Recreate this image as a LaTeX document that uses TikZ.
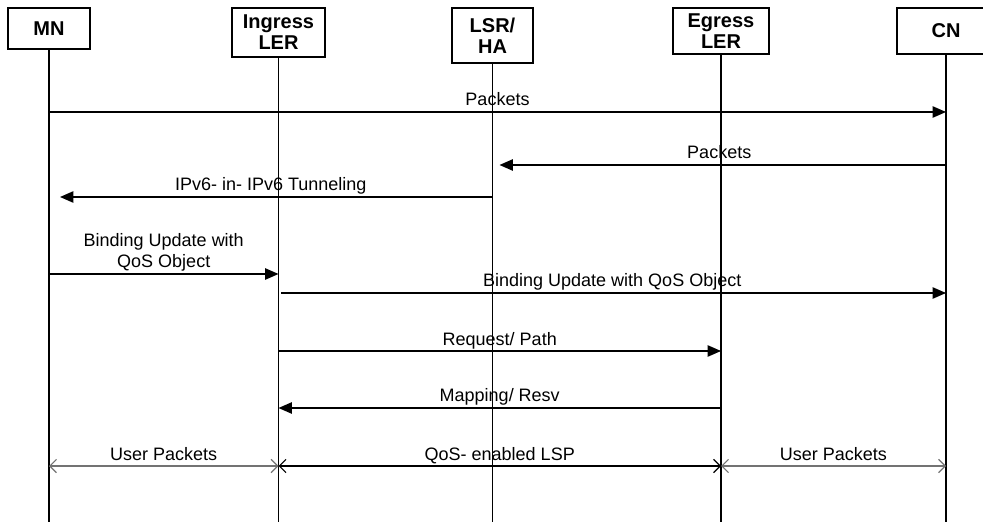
\documentclass[tikz,border=0pt]{standalone}
\usepackage{fontspec}
\setmainfont{Liberation Sans}
\usetikzlibrary{arrows.meta}

\tikzset{
  entity/.style={draw, line width=1.1pt, align=center, inner sep=0pt,
    font=\fontsize{15}{15.75}\selectfont\bfseries},
  lifeline/.style={line width=1.1pt},
  msg/.style={line width=1pt, -{Triangle[length=10pt, width=8.5pt]}},
  span/.style={line width=0.9pt, {Straight Barb[length=5pt, width=10pt]}-{Straight Barb[length=5pt, width=10pt]}},
  lbl/.style={anchor=south, inner sep=0pt, text depth=0pt, yshift=4pt, align=center,
    font=\fontsize{13.5}{16.3}\selectfont}
}

\begin{document}
\begin{tikzpicture}[x=0.75pt, y=-0.75pt]
  \useasboundingbox (0,0) rectangle (983,524);
  \clip (0,0) rectangle (983,524);

  \node[entity, minimum width=61.5pt, minimum height=30.75pt] (mn) at (49,28.5) {MN};
  \node[entity, minimum width=69.75pt, minimum height=36.75pt] (ingress) at (278.5,32.5) {Ingress\\LER};
  \node[entity, minimum width=60.75pt, minimum height=41.25pt] (lsr) at (492.5,35.5) {LSR/\\HA};
  \node[entity, minimum width=72pt, minimum height=34.5pt] (egress) at (721,31) {Egress\\LER};
  \node[entity, minimum width=73.5pt, minimum height=34.5pt] (cn) at (946,31) {CN};

  \foreach \n in {mn,ingress,lsr,egress,cn}
    \draw[lifeline] (\n.south) -- (\n.south |- 0,522);

  \draw[msg] (mn |- 0,112) -- node[lbl] {Packets} (cn |- 0,112);
  \draw[msg, shorten >=5.25pt] (cn |- 0,165) -- node[lbl] {Packets} (lsr |- 0,165);
  \draw[msg, shorten >=8.25pt] (lsr |- 0,197) -- node[lbl] {IPv6- in- IPv6 Tunneling} (mn |- 0,197);
  \draw[msg] (mn |- 0,274) -- node[lbl] {Binding Update with\\QoS Object} (ingress |- 0,274);
  \draw[msg, shorten <=2pt] (ingress |- 0,293) -- node[lbl] {Binding Update with QoS Object} (cn |- 0,293);
  \draw[msg] (ingress |- 0,351) -- node[lbl] {Request/ Path} (egress |- 0,351);
  \draw[msg] (egress |- 0,408) -- node[lbl] {Mapping/ Resv} (ingress |- 0,408);

  % user data path
  \draw[span, black!55] (mn |- 0,466) -- node[lbl, text=black] {User Packets} (ingress |- 0,466);
  \draw[span] (ingress |- 0,466) -- node[lbl] {QoS- enabled LSP} (egress |- 0,466);
  \draw[span, black!55] (egress |- 0,466) -- node[lbl, text=black] {User Packets} (cn |- 0,466);
\end{tikzpicture}
\end{document}
